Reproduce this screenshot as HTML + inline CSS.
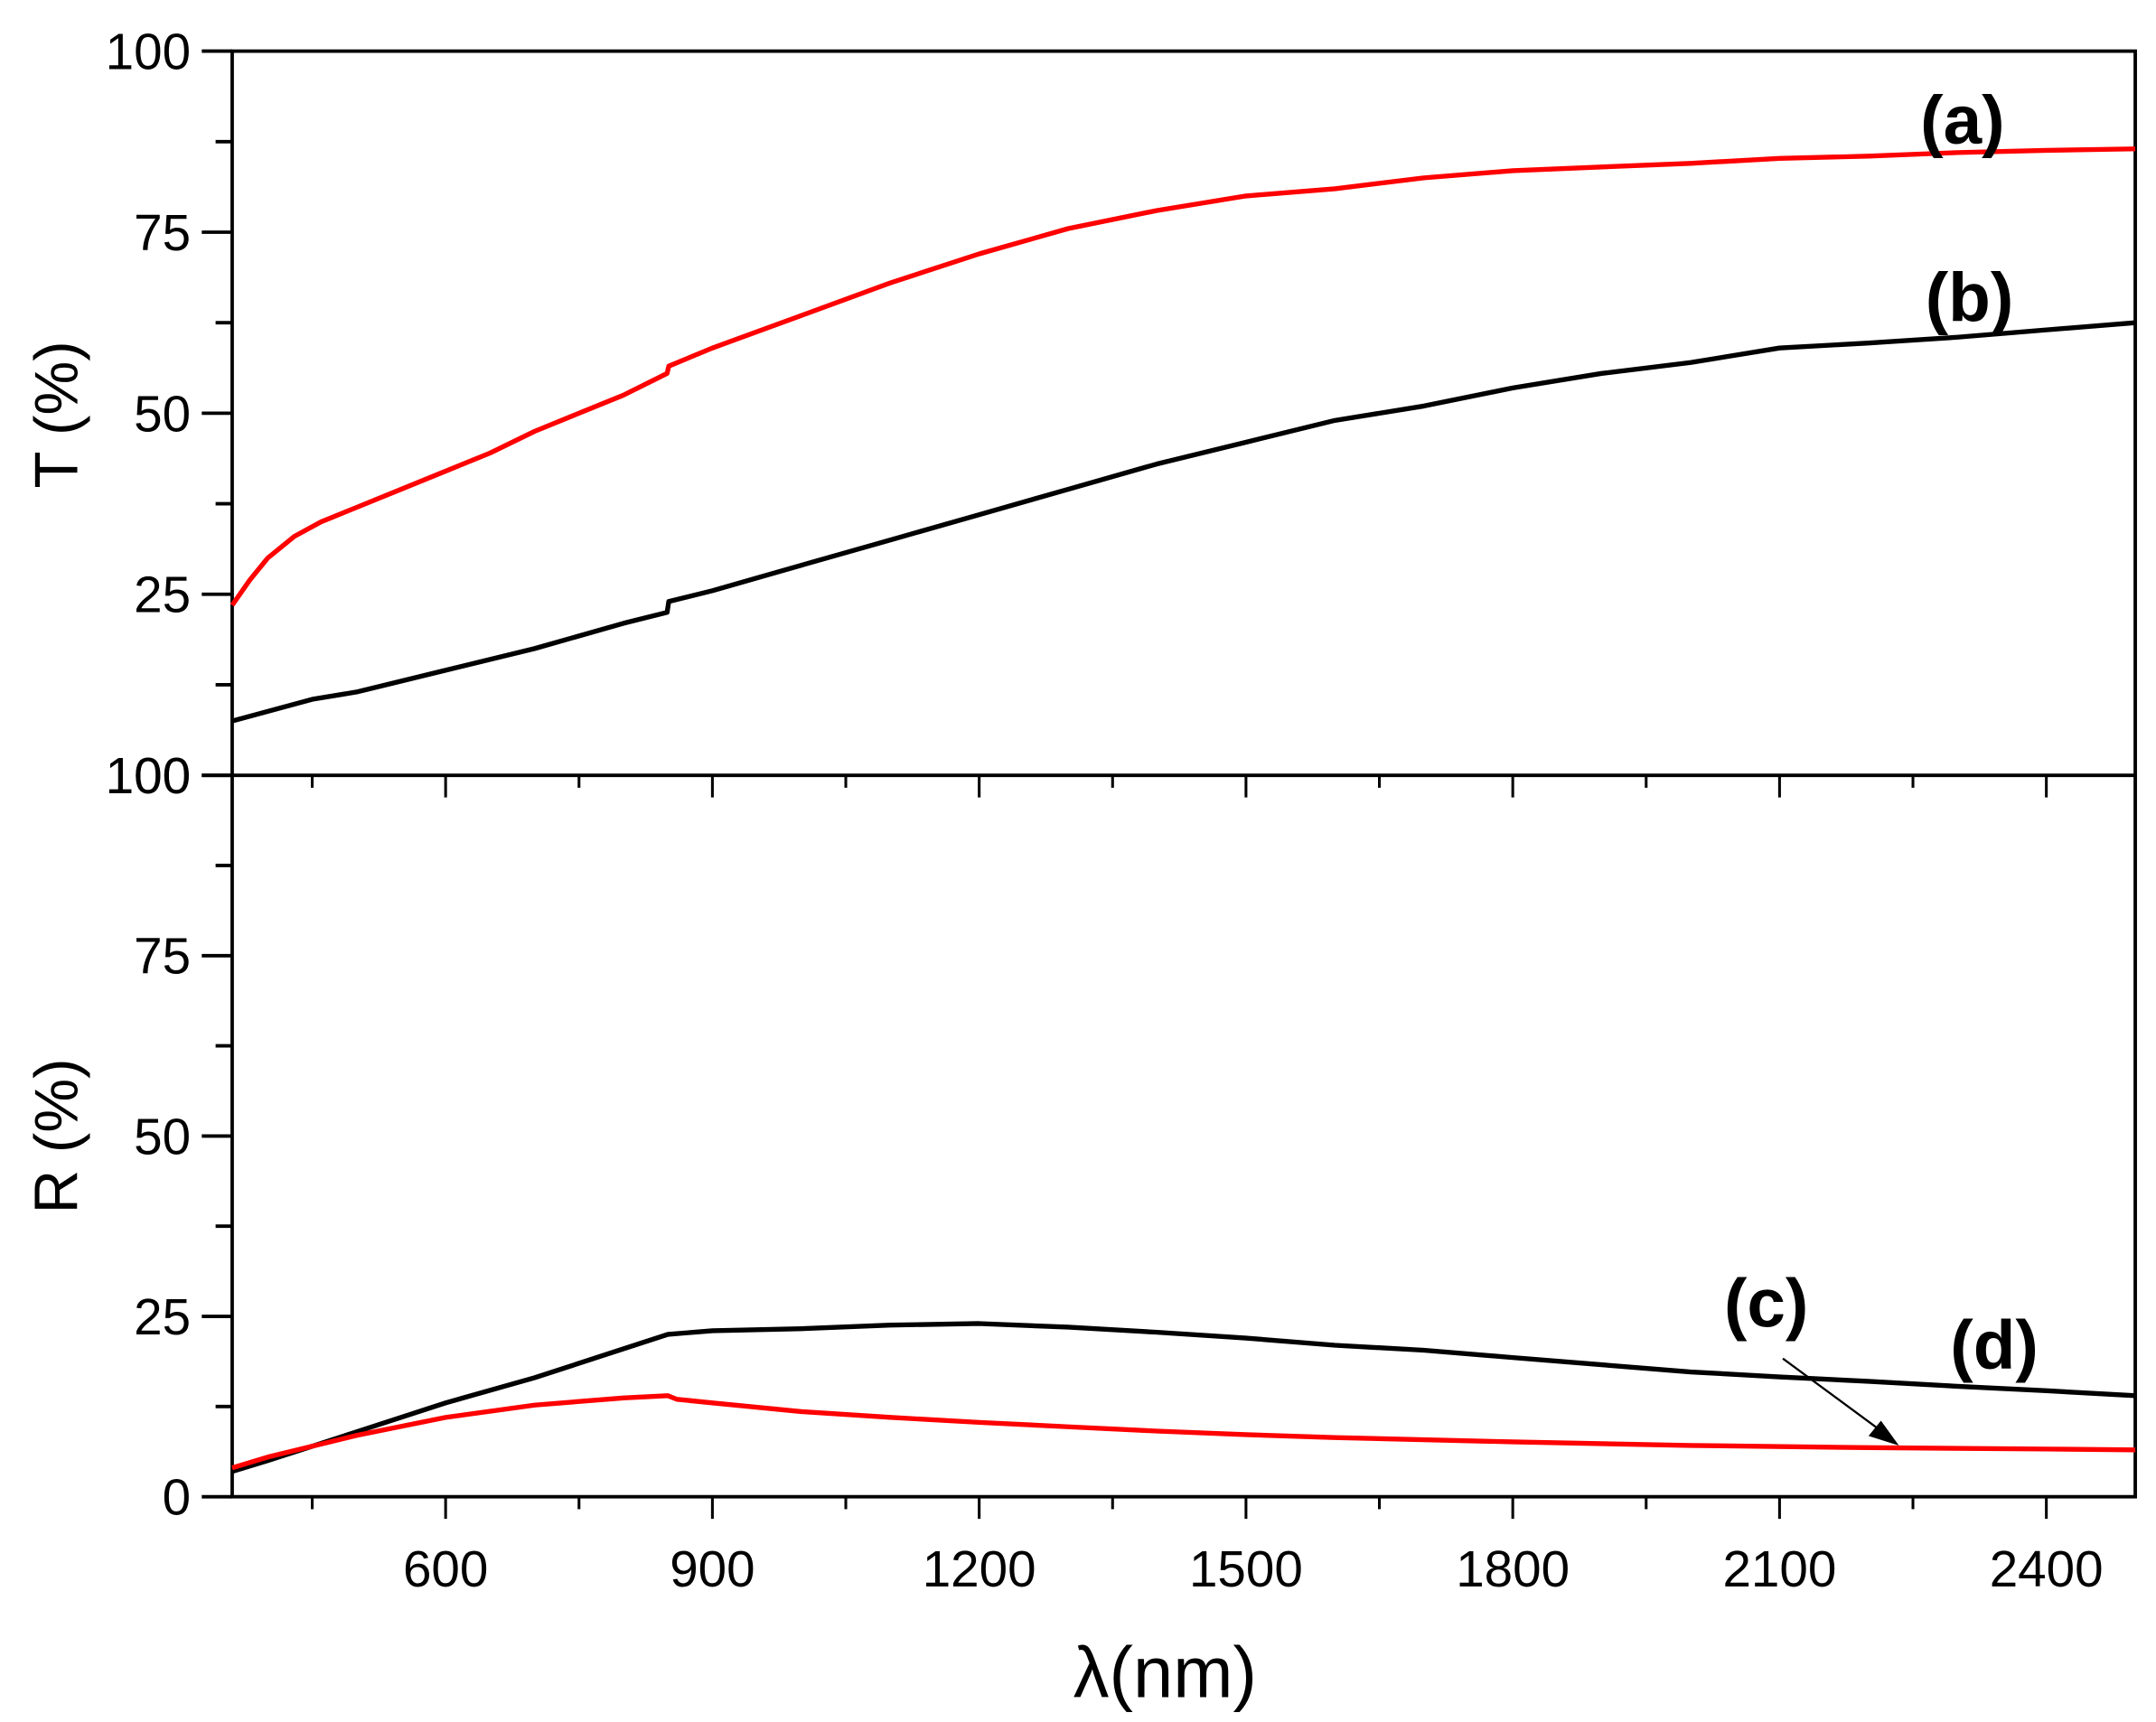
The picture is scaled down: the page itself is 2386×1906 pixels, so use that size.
<!DOCTYPE html>
<html><head><meta charset="utf-8"><style>
html,body{margin:0;padding:0;background:#fff;}
svg{display:block;}
text{font-family:"Liberation Sans",Arial,sans-serif;}
</style></head><body>
<svg id="chart" width="2386" height="1906" viewBox="0 0 1560 1246" preserveAspectRatio="none" xmlns="http://www.w3.org/2000/svg">
<g id="axes"></g>
<g id="series"></g>
<g id="labels">
<text transform="translate(56,300) rotate(-90)" text-anchor="middle" font-size="44">T (%)</text>
<text transform="translate(56,822) rotate(-90)" text-anchor="middle" font-size="44">R (%)</text>
<text x="843" y="1228" text-anchor="middle" font-size="52">λ(nm)</text>
<text x="1420" y="104" text-anchor="middle" font-size="50" font-weight="bold">(a)</text>
<text x="1425" y="232" text-anchor="middle" font-size="50" font-weight="bold">(b)</text>
<text x="1278" y="960" text-anchor="middle" font-size="50" font-weight="bold">(c)</text>
<text x="1443" y="990" text-anchor="middle" font-size="50" font-weight="bold">(d)</text>
<line x1="1290" y1="983" x2="1362" y2="1036" stroke="#000" stroke-width="1.5"/>
<polygon points="1374,1046 1352,1039 1361,1028" fill="#000"/>
</g>
</svg>
<script>
const xA = [360,380,400,430,460,500,550,600,650,700,750,800,849,851,900,1000,1100,1200,1300,1400,1500,1600,1700,1800,1900,2000,2100,2200,2300,2400,2500];
const tA = [23.5,27,30,33,35,37,39.5,42,44.5,47.5,50,52.5,55.5,56.5,59,63.5,68,72,75.5,78,80,81,82.5,83.5,84,84.5,85.2,85.5,86,86.3,86.5];
const xB = [360,450,500,600,700,800,849,851,900,1000,1100,1200,1300,1400,1500,1600,1700,1800,1900,2000,2100,2200,2300,2400,2500];
const tB = [7.5,10.5,11.5,14.5,17.5,21,22.5,24,25.5,29,32.5,36,39.5,43,46,49,51,53.5,55.5,57,59,59.7,60.5,61.5,62.5];
const xD = [360,400,450,500,600,700,800,850,900,1000,1100,1200,1300,1400,1500,1600,1700,1800,1900,2000,2100,2200,2300,2400,2500];
const rD = [3.5,5,7,9,13,16.5,20.5,22.5,23,23.3,23.8,24,23.5,22.8,22,21,20.3,19.3,18.3,17.3,16.6,16,15.3,14.7,14];
const xC = [360,400,500,600,700,800,850,860,900,1000,1100,1200,1300,1400,1500,1600,1800,2000,2200,2400,2500];
const rC = [4,5.5,8.5,11,12.7,13.7,14,13.5,13,11.8,11,10.3,9.7,9.1,8.6,8.2,7.6,7.1,6.8,6.6,6.5];
const xTicks = [600,900,1200,1500,1800,2100,2400];
const xMinor = [450,750,1050,1350,1650,1950,2250];
const yTicks = [0,25,50,75,100];
const yTickLabelsTop = ["100","25","50","75","100"];
const yTickLabelsBottom = ["0","25","50","75","100"];

const L=168,R=1545,T0=37,M=561,B=1083;
const xs=v=>L+(v-360)/(2500-360)*(R-L);
const yTop=v=>M-v/100*(M-T0);
const yBot=v=>B-v/100*(B-M);
const NS="http://www.w3.org/2000/svg";
function mk(tag,attrs,parent){const e=document.createElementNS(NS,tag);for(const k in attrs)e.setAttribute(k,attrs[k]);parent.appendChild(e);return e;}
const ax=document.getElementById('axes'), sr=document.getElementById('series');

let fr=mk('rect',{x:L,y:T0,width:R-L,height:B-T0,fill:'none',stroke:'#000','stroke-width':2.5},ax);


let mid=mk('line',{x1:L,y1:M,x2:R,y2:M,stroke:'#000','stroke-width':2.5},ax);



[[yTop,yTickLabelsTop,'top'],[yBot,yTickLabelsBottom,'bottom']].forEach(([yf,labs,p])=>{
  yTicks.forEach((v,i)=>{
    let t=mk('line',{x1:L-22,y1:yf(v),x2:L,y2:yf(v),stroke:'#000','stroke-width':2.5},ax);
    
    
    let tx=mk('text',{x:L-30,y:yf(v)+13,'text-anchor':'end','font-size':37},ax);
    tx.textContent=labs[i];
    
    
    if(v<100){let mt=mk('line',{x1:L-12,y1:yf(v+12.5),x2:L,y2:yf(v+12.5),stroke:'#000','stroke-width':2.5},ax);
    
    }
  });
});
[M,B].forEach(y0=>{
  xTicks.forEach(v=>{let t=mk('line',{x1:xs(v),y1:y0,x2:xs(v),y2:y0+16,stroke:'#000','stroke-width':2},ax);
  
  });
  xMinor.forEach(v=>{let t=mk('line',{x1:xs(v),y1:y0,x2:xs(v),y2:y0+9,stroke:'#000','stroke-width':2},ax);
  
  });
});
xTicks.forEach(v=>{let tx=mk('text',{x:xs(v),y:1148,'text-anchor':'middle','font-size':37},ax);
tx.textContent=v;

});

function line(xd,yd,yf,color,name){
  const d=xd.map((x,i)=>(i?'L':'M')+xs(x).toFixed(1)+','+yf(yd[i]).toFixed(1)).join('');
  let p=mk('path',{d:d,fill:'none',stroke:color,'stroke-width':3.5,'stroke-linejoin':'round'},sr);
  
  
}
line(xA,tA,yTop,'#ff0000','series-a-transmittance');
line(xB,tB,yTop,'#000','series-b-transmittance');
line(xD,rD,yBot,'#000','series-d-reflectance');
line(xC,rC,yBot,'#ff0000','series-c-reflectance');
</script>
</body></html>
